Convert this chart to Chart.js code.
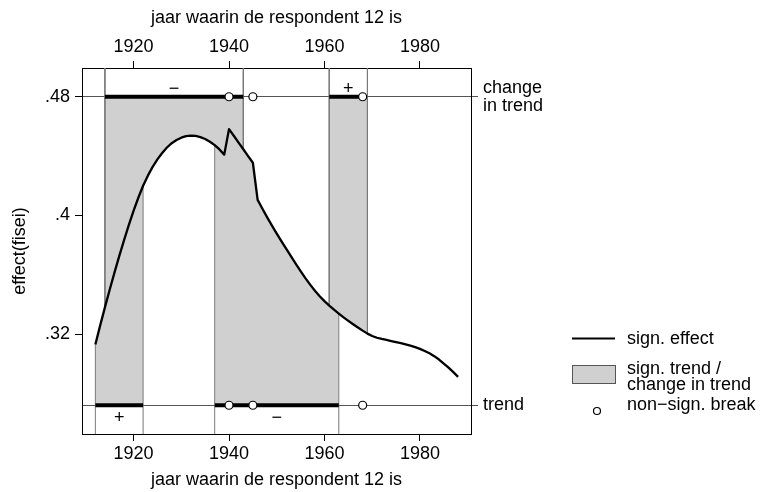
<!DOCTYPE html>
<html>
<head>
<meta charset="utf-8">
<script src="https://cdn.jsdelivr.net/npm/chart.js@4/dist/chart.umd.min.js"></script>
<style>
  html, body { margin: 0; padding: 0; background: #fff; }
</style>
</head>
<body>
<canvas id="chart" width="765" height="492"></canvas>
<script>
// jaren en effect (gelezen van de figuur)
const years = [1912, 1913, 1914, 1915, 1916, 1917, 1918, 1919, 1920, 1921,
  1922, 1923, 1924, 1925, 1926, 1927, 1928, 1929, 1930, 1931,
  1932, 1933, 1934, 1935, 1936, 1937, 1938, 1939, 1940, 1941,
  1942, 1943, 1944, 1945, 1946, 1947, 1948, 1949, 1950, 1951,
  1952, 1953, 1954, 1955, 1956, 1957, 1958, 1959, 1960, 1961,
  1962, 1963, 1964, 1965, 1966, 1967, 1968, 1969, 1970, 1971,
  1972, 1973, 1974, 1975, 1976, 1977, 1978, 1979, 1980, 1981,
  1982, 1983, 1984, 1985, 1986, 1987, 1988];
const effect = [.3130, .3257, .3380, .3499, .3614, .3725, .3832, .3934, .4030, .4119,
  .4200, .4268, .4327, .4378, .4421, .4458, .4487, .4508, .4524, .4534,
  .4538, .4536, .4528, .4515, .4497, .4474, .4445, .4410, .4582, .4537,
  .4491, .4446, .4400, .4355, .4105, .4045, .3987, .3931, .3877, .3825,
  .3774, .3723, .3673, .3624, .3577, .3533, .3492, .3455, .3422, .3392,
  .3364, .3338, .3313, .3289, .3266, .3244, .3223, .3203, .3187, .3175,
  .3167, .3160, .3153, .3146, .3139, .3131, .3122, .3112, .3100, .3086,
  .3070, .3051, .3028, .3001, .2973, .2943, .2911];

const xTicks = [1920, 1940, 1960, 1980];
const yTicks = [.32, .4, .48];

// niveaus van de twee hulplijnen
const levelChange = .48;
const levelTrend = .272;

// significante verandering in trend (boven) en trend (onder)
const changeBands = [[1914, 1943], [1961, 1969]];
const changeThick = [[1914, 1943], [1961, 1968]];
const changeSigns = ['\u2212', '+'];
const changeBreaks = [1940, 1945, 1968];

const trendBands = [[1912, 1922], [1937, 1963]];
const trendThick = [[1912, 1922], [1937, 1963]];
const trendSigns = ['+', '\u2212'];
const trendBreaks = [1940, 1945, 1968];

const xMin = 1909.2, xMax = 1990.7;
const yMin = .2526, yMax = .4994;

const FONT = '"Liberation Sans", Arial, Helvetica, sans-serif';
const GREY = '#d0d0d0';

const curveAt = yr => effect[years.indexOf(yr)];
const curvePts = years.map((yr, i) => ({x: yr, y: effect[i]}));

const datasets = [];

// grijze vlakken tussen hulplijn en curve
changeBands.concat(trendBands).forEach((b, i) => {
  datasets.push({
    type: 'line',
    data: curvePts.filter(p => p.x >= b[0] && p.x <= b[1]),
    borderWidth: 0,
    pointRadius: 0,
    backgroundColor: GREY,
    fill: {value: i < changeBands.length ? levelChange : levelTrend},
    order: 10
  });
});

// randen van de vlakken, van kader tot curve
changeBands.forEach(b => b.forEach(yr => {
  datasets.push({
    type: 'line',
    data: [{x: yr, y: yMax}, {x: yr, y: curveAt(yr)}],
    borderColor: '#7a7a7a', borderWidth: 1, pointRadius: 0, order: 8
  });
}));
trendBands.forEach(b => b.forEach(yr => {
  datasets.push({
    type: 'line',
    data: [{x: yr, y: yMin}, {x: yr, y: curveAt(yr)}],
    borderColor: '#7a7a7a', borderWidth: 1, pointRadius: 0, order: 8
  });
}));

// het effect
datasets.push({
  type: 'line',
  data: curvePts,
  borderColor: '#000', borderWidth: 2.3, pointRadius: 0, tension: 0,
  borderJoinStyle: 'round',
  order: 5
});

// dikke lijnen op de hulplijnen
changeThick.forEach(t => datasets.push({
  type: 'line',
  data: [{x: t[0], y: levelChange}, {x: t[1], y: levelChange}],
  borderColor: '#000', borderWidth: 4, borderCapStyle: 'butt', pointRadius: 0, order: 3
}));
trendThick.forEach(t => datasets.push({
  type: 'line',
  data: [{x: t[0], y: levelTrend}, {x: t[1], y: levelTrend}],
  borderColor: '#000', borderWidth: 4, borderCapStyle: 'butt', pointRadius: 0, order: 3
}));

// niet-significante breuken
datasets.push({
  type: 'scatter',
  data: changeBreaks.map(yr => ({x: yr, y: levelChange}))
    .concat(trendBreaks.map(yr => ({x: yr, y: levelTrend}))),
  pointRadius: 4, pointBackgroundColor: '#fff', pointBorderColor: '#000',
  pointBorderWidth: 1.2, showLine: false, order: 1
});

const overlay = {
  id: 'overlay',
  afterDatasetsDraw(chart) {
    const {ctx, scales: {x, y}} = chart;
    ctx.save();
    ctx.font = '18px ' + FONT;
    ctx.fillStyle = '#000';
    ctx.textAlign = 'center';
    ctx.textBaseline = 'middle';
    changeBands.forEach((b, i) => {
      ctx.fillText(changeSigns[i], x.getPixelForValue((b[0] + b[1]) / 2), y.getPixelForValue(levelChange) - 8);
    });
    trendBands.forEach((b, i) => {
      ctx.fillText(trendSigns[i], x.getPixelForValue((b[0] + b[1]) / 2), y.getPixelForValue(levelTrend) + 13);
    });

    // legenda
    ctx.textAlign = 'left';
    ctx.strokeStyle = '#000';
    ctx.lineWidth = 2;
    ctx.beginPath();
    ctx.moveTo(572, 338.5);
    ctx.lineTo(615, 338.5);
    ctx.stroke();
    ctx.fillText('sign. effect', 627, 339);

    ctx.fillStyle = GREY;
    ctx.fillRect(572.5, 365.5, 43, 18);
    ctx.lineWidth = 1;
    ctx.strokeStyle = '#555';
    ctx.strokeRect(572.5, 365.5, 43, 18);
    ctx.fillStyle = '#000';
    ctx.fillText('sign. trend /', 627, 369);
    ctx.fillText('change in trend', 627, 385);

    ctx.beginPath();
    ctx.arc(597, 411, 3.5, 0, Math.PI * 2);
    ctx.fillStyle = '#fff';
    ctx.fill();
    ctx.strokeStyle = '#000';
    ctx.lineWidth = 1.2;
    ctx.stroke();
    ctx.fillStyle = '#000';
    ctx.fillText('non\u2212sign. break', 627, 405);
    ctx.restore();
  }
};

const tickFont = {family: FONT, size: 18, lineHeight: 1};
const titleFont = {family: FONT, size: 18};
const xTitle = 'jaar waarin de respondent 12 is';

new Chart(document.getElementById('chart'), {
  data: {datasets: datasets},
  options: {
    responsive: false,
    animation: false,
    devicePixelRatio: 1,
    layout: {padding: 0},
    plugins: {legend: {display: false}, tooltip: {enabled: false}},
    scales: {
      x: {
        type: 'linear', position: 'bottom', min: xMin, max: xMax,
        afterBuildTicks: s => { s.ticks = xTicks.map(v => ({value: v})); },
        afterFit: s => { s.height = 58; },
        ticks: {color: '#000', font: tickFont, padding: 4, callback: v => String(v), maxRotation: 0},
        grid: {drawOnChartArea: false, tickLength: 7, color: '#000'},
        border: {color: '#000', width: 1},
        title: {display: true, text: xTitle, color: '#000', font: titleFont, padding: {top: 0, bottom: 1}}
      },
      x2: {
        type: 'linear', position: 'top', min: xMin, max: xMax,
        afterBuildTicks: s => { s.ticks = xTicks.map(v => ({value: v})); },
        afterFit: s => { s.height = 68; },
        ticks: {color: '#000', font: tickFont, padding: 5, callback: v => String(v), maxRotation: 0},
        grid: {drawOnChartArea: false, tickLength: 7, color: '#000'},
        border: {color: '#000', width: 1},
        title: {display: true, text: xTitle, color: '#000', font: titleFont, padding: {top: 7, bottom: 0}}
      },
      y: {
        type: 'linear', position: 'left', min: yMin, max: yMax,
        afterBuildTicks: s => { s.ticks = yTicks.map(v => ({value: v})); },
        afterFit: s => { s.width = 82; },
        ticks: {color: '#000', font: tickFont, padding: 5, callback: v => String(v).replace(/^0/, '')},
        grid: {drawOnChartArea: false, tickLength: 7, color: '#000'},
        border: {color: '#000', width: 1},
        title: {display: true, text: 'effect(fisei)', color: '#000', font: titleFont, padding: {top: 9, bottom: 0}}
      },
      y2: {
        type: 'linear', position: 'right', min: yMin, max: yMax,
        afterBuildTicks: s => { s.ticks = [levelTrend, levelChange].map(v => ({value: v})); },
        afterFit: s => { s.width = 294; },
        ticks: {
          color: '#000', font: tickFont, padding: 5,
          callback: v => (v === levelChange ? ['change', 'in trend'] : 'trend')
        },
        grid: {drawOnChartArea: true, tickLength: 7, color: '#555', lineWidth: 1},
        border: {color: '#000', width: 1}
      }
    }
  },
  plugins: [overlay]
});
</script>
</body>
</html>
